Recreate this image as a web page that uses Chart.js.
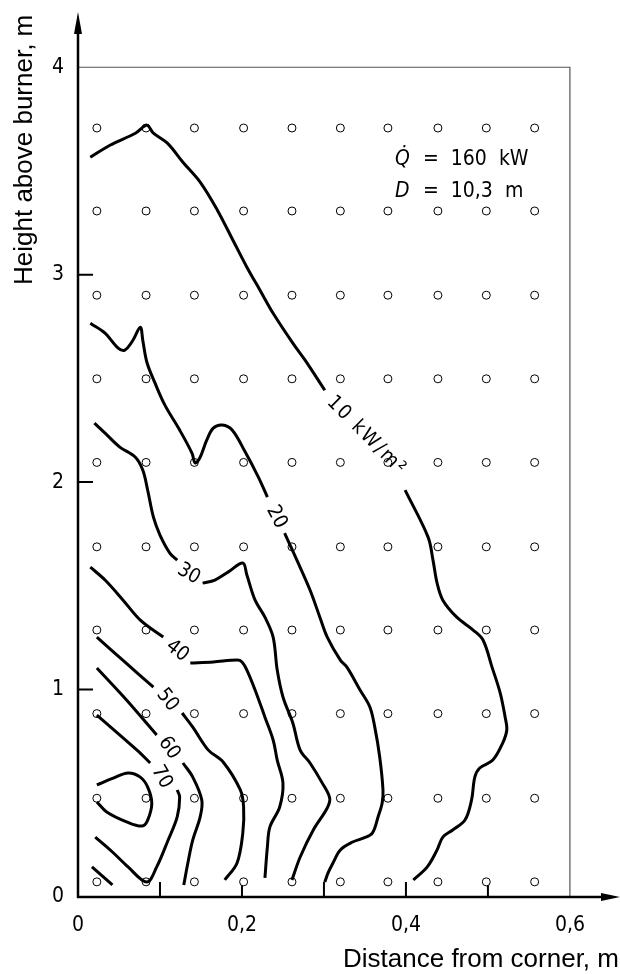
<!DOCTYPE html>
<html>
<head>
<meta charset="utf-8">
<script src="https://cdn.jsdelivr.net/npm/chart.js@4.4.0/dist/chart.umd.min.js"></script>
<style>
  html, body { margin: 0; padding: 0; background: #fff; }
  #wrap { width: 620px; height: 974px; }
</style>
</head>
<body>
<div id="wrap"><canvas id="grafico" width="620" height="974"></canvas></div>
<script>
// measuring points (m)
const gridX = [0.023, 0.083, 0.142, 0.202, 0.261, 0.320, 0.378, 0.439, 0.498, 0.557];
const gridY = [0.073, 0.476, 0.884, 1.287, 1.688, 2.095, 2.498, 2.901, 3.307, 3.707];

// axis ticks
const xTicks = [0, 0.2, 0.4, 0.6];
const yTicks = [0, 1, 2, 3, 4];
const xMarks = [0.1, 0.2, 0.3, 0.4, 0.5];
const yMarks = [1, 2, 3];

// isolines of heat flux, [distance, height]; "a" is before the label, "b" after
const c10a = [[0.015,3.566],[0.039,3.624],[0.070,3.682],[0.084,3.720],[0.092,3.682],[0.109,3.634],[0.128,3.542],[0.149,3.446],[0.170,3.311],[0.189,3.166],[0.206,3.036],[0.222,2.925],[0.238,2.814],[0.262,2.670],[0.277,2.588],[0.301,2.443]];
const c10b = [[0.399,1.961],[0.427,1.735],[0.433,1.624],[0.438,1.513],[0.445,1.431],[0.462,1.349],[0.482,1.287],[0.494,1.239],[0.505,1.108],[0.515,0.983],[0.521,0.867],[0.523,0.805],[0.518,0.742],[0.506,0.660],[0.490,0.622],[0.484,0.578],[0.480,0.467],[0.472,0.371],[0.457,0.323],[0.445,0.289],[0.438,0.227],[0.426,0.145],[0.409,0.082]];
const c20a = [[0.015,2.766],[0.033,2.718],[0.049,2.646],[0.057,2.636],[0.067,2.684],[0.076,2.747],[0.079,2.684],[0.084,2.578],[0.094,2.477],[0.106,2.371],[0.124,2.251],[0.139,2.140],[0.143,2.092],[0.149,2.120],[0.157,2.202],[0.165,2.260],[0.176,2.275],[0.188,2.251],[0.204,2.145],[0.220,2.024],[0.231,1.928]];
const c20b = [[0.252,1.754],[0.267,1.624],[0.283,1.480],[0.295,1.349],[0.304,1.253],[0.320,1.142],[0.328,1.108],[0.344,0.998],[0.356,0.916],[0.362,0.819],[0.368,0.675],[0.372,0.516],[0.371,0.453],[0.366,0.386],[0.359,0.308],[0.348,0.284],[0.335,0.265],[0.320,0.227],[0.311,0.164],[0.305,0.116],[0.301,0.072]];
const c30a = [[0.020,2.284],[0.033,2.236],[0.051,2.169],[0.070,2.120],[0.079,2.058],[0.085,1.961],[0.092,1.831],[0.100,1.745],[0.112,1.658],[0.121,1.624]];
const c30b = [[0.152,1.513],[0.167,1.528],[0.183,1.566],[0.201,1.610],[0.206,1.552],[0.216,1.431],[0.228,1.349],[0.238,1.253],[0.243,1.094],[0.250,0.964],[0.262,0.839],[0.271,0.708],[0.283,0.646],[0.298,0.549],[0.307,0.477],[0.304,0.429],[0.287,0.323],[0.271,0.193],[0.261,0.082]];
const c40a = [[0.015,1.590],[0.033,1.528],[0.055,1.431],[0.076,1.335],[0.104,1.253]];
const c40b = [[0.137,1.128],[0.165,1.133],[0.194,1.142],[0.200,1.133],[0.206,1.094],[0.216,0.998],[0.228,0.867],[0.238,0.757],[0.243,0.660],[0.250,0.549],[0.246,0.434],[0.234,0.337],[0.231,0.241],[0.228,0.092]];
const c50a = [[0.023,1.253],[0.057,1.133],[0.092,1.012]];
const c50b = [[0.127,0.887],[0.140,0.819],[0.159,0.708],[0.177,0.651],[0.198,0.516],[0.202,0.434],[0.201,0.308],[0.194,0.164],[0.179,0.082]];
const c60a = [[0.023,1.104],[0.057,0.959],[0.096,0.781]];
const c60b = [[0.128,0.646],[0.140,0.578],[0.151,0.467],[0.149,0.386],[0.140,0.275],[0.134,0.164],[0.129,0.058]];
const c70a = [[0.023,0.877],[0.072,0.708],[0.088,0.646]];
const c70b = [[0.121,0.516],[0.124,0.482],[0.121,0.386],[0.110,0.275],[0.096,0.145],[0.084,0.072],[0.061,0.145],[0.042,0.217],[0.021,0.289]];
const c80 = [[0.023,0.540],[0.043,0.573],[0.061,0.598],[0.076,0.578],[0.085,0.530],[0.090,0.453],[0.085,0.371],[0.078,0.342],[0.060,0.361],[0.035,0.410],[0.023,0.458]];
const c80corner = [[0.017,0.145],[0.042,0.058]];

// isoline labels and where they sit
const levelNames = ['10 kW/m²', '20', '30', '40', '50', '60', '70'];
const levelSpots = [[0.352,2.222], [0.242,1.832], [0.135,1.557], [0.121,1.186], [0.109,0.949], [0.111,0.718], [0.102,0.578]];
const levelAngles = [45, 62, 30, 38, 52, 55, 60];

const fonteIso = "'DejaVu Sans Condensed', 'DejaVu Sans', sans-serif";
const fonteTitulo = "'Liberation Sans', Arial, sans-serif";

function linha(pts) {
    return {
        type: 'scatter',
        data: pts.map(p => ({ x: p[0], y: p[1] })),
        showLine: true,
        borderColor: '#000',
        borderWidth: 3,
        pointRadius: 0,
        tension: 0.35,
        fill: false
    };
}

const pontos = [];
gridY.forEach(function(yv) {
    gridX.forEach(function(xv) { pontos.push({ x: xv, y: yv }); });
});

const moldura = {
    id: 'moldura',
    beforeDatasetsDraw(chart) {
        const { ctx, chartArea: area, scales: { x, y } } = chart;
        const x0 = x.getPixelForValue(0), y0 = y.getPixelForValue(0);
        const xr = x.getPixelForValue(0.6), yt = y.getPixelForValue(4);
        ctx.save();
        ctx.strokeStyle = '#555';
        ctx.lineWidth = 1.2;
        ctx.beginPath();
        ctx.moveTo(x0, yt); ctx.lineTo(xr, yt); ctx.lineTo(xr, y0);
        ctx.stroke();

        ctx.strokeStyle = '#000';
        ctx.lineWidth = 2.5;
        ctx.beginPath();
        ctx.moveTo(x0, y0 + 1); ctx.lineTo(x0, 30);
        ctx.moveTo(x0 - 1, y0); ctx.lineTo(area.right - 5, y0);
        ctx.stroke();

        ctx.fillStyle = '#000';
        ctx.beginPath();
        ctx.moveTo(x0, 12); ctx.lineTo(x0 - 4, 34); ctx.lineTo(x0 + 4, 34);
        ctx.closePath(); ctx.fill();
        ctx.beginPath();
        ctx.moveTo(area.right + 5, y0); ctx.lineTo(area.right - 14, y0 - 4); ctx.lineTo(area.right - 14, y0 + 4);
        ctx.closePath(); ctx.fill();

        ctx.lineWidth = 2;
        ctx.beginPath();
        xMarks.forEach(function(v) {
            const px = x.getPixelForValue(v);
            ctx.moveTo(px, y0); ctx.lineTo(px, y0 - 15);
        });
        yMarks.forEach(function(v) {
            const py = y.getPixelForValue(v);
            ctx.moveTo(x0, py); ctx.lineTo(x0 + 15, py);
        });
        ctx.stroke();
        ctx.restore();
    },
    afterDatasetsDraw(chart) {
        const { ctx, scales: { x, y } } = chart;
        ctx.save();
        ctx.fillStyle = '#000';
        ctx.font = '20px ' + fonteIso;
        ctx.textAlign = 'center';
        ctx.textBaseline = 'middle';
        levelNames.forEach(function(txt, i) {
            const px = x.getPixelForValue(levelSpots[i][0]);
            const py = y.getPixelForValue(levelSpots[i][1]);
            ctx.save();
            ctx.translate(px, py);
            ctx.rotate(levelAngles[i] * Math.PI / 180);
            if (i === 0) ctx.letterSpacing = '2px';
            ctx.fillText(txt, 0, 0);
            ctx.restore();
        });

        // operating conditions
        ctx.textAlign = 'left';
        ctx.textBaseline = 'alphabetic';
        ctx.font = 'italic 21px ' + fonteIso;
        ctx.fillText('Q\u0307', 395, 165);
        ctx.fillText('D', 395, 197);
        ctx.font = '21px ' + fonteIso;
        ctx.fillText('=  160  kW', 423, 165);
        ctx.fillText('=  10,3  m', 423, 197);

        // axis titles
        ctx.font = '26px ' + fonteTitulo;
        ctx.fillText('Distance from corner, m', 343, 967);
        ctx.translate(32, 285);
        ctx.rotate(-Math.PI / 2);
        ctx.fillText('Height above burner, m', 0, 0);
        ctx.restore();
    }
};

document.addEventListener("DOMContentLoaded", function() {
    const ctx = document.getElementById("grafico").getContext("2d");
    const conjuntos = [c10a, c10b, c20a, c20b, c30a, c30b, c40a, c40b, c50a, c50b, c60a, c60b, c70a, c70b, c80, c80corner].map(linha);
    conjuntos.push({
        type: 'scatter',
        data: pontos,
        showLine: false,
        pointRadius: 4,
        pointBorderWidth: 1,
        pointBorderColor: '#000',
        pointBackgroundColor: '#fff'
    });

    new Chart(ctx, {
        type: 'scatter',
        data: { datasets: conjuntos },
        options: {
            responsive: false,
            animation: false,
            layout: { padding: { top: 5, right: 5, left: 0, bottom: 0 } },
            plugins: {
                legend: { display: false },
                tooltip: { enabled: false }
            },
            scales: {
                x: {
                    type: 'linear',
                    min: 0,
                    max: 0.655,
                    grid: { display: false, drawTicks: false },
                    border: { display: false },
                    afterBuildTicks: function(s) { s.ticks = xTicks.map(v => ({ value: v })); },
                    afterFit: function(s) { s.height = 77; s.paddingLeft = 0; s.paddingRight = 0; },
                    ticks: {
                        autoSkip: false,
                        maxRotation: 0,
                        padding: 16,
                        color: '#000',
                        font: { family: fonteIso, size: 21 },
                        callback: v => String(v).replace('.', ',')
                    }
                },
                y: {
                    type: 'linear',
                    min: 0,
                    max: 4.3,
                    grid: { display: false, drawTicks: false },
                    border: { display: false },
                    afterBuildTicks: function(s) { s.ticks = yTicks.map(v => ({ value: v })); },
                    afterFit: function(s) { s.width = 78; s.paddingTop = 0; s.paddingBottom = 0; },
                    ticks: {
                        autoSkip: false,
                        padding: 14,
                        color: '#000',
                        font: { family: fonteIso, size: 21 }
                    }
                }
            }
        },
        plugins: [moldura]
    });
});
</script>
</body>
</html>
